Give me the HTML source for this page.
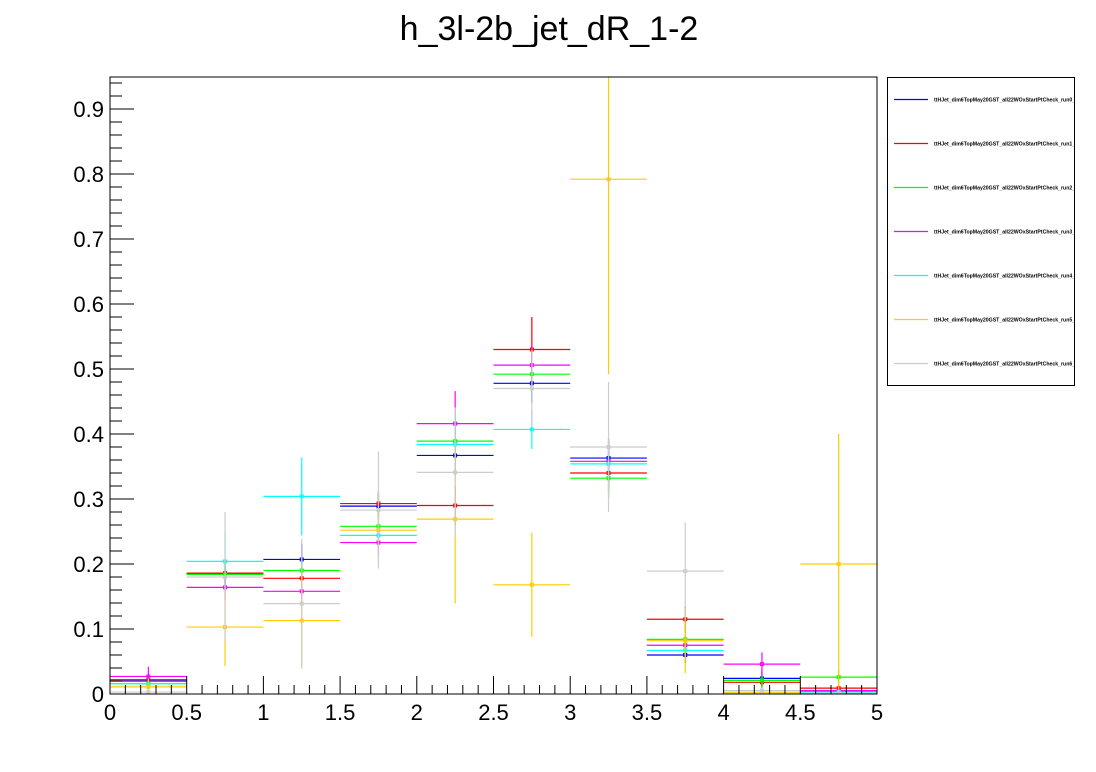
<!DOCTYPE html>
<html><head><meta charset="utf-8"><style>
html,body{margin:0;padding:0;background:#fff;}
svg{display:block;font-family:"Liberation Sans",sans-serif;}
</style></head><body>
<svg id="chart" width="1096" height="772" viewBox="0 0 1096 772">
<rect x="0" y="0" width="1096" height="772" fill="#fff"/>
<text x="549" y="40" font-size="34" text-anchor="middle">h_3l-2b_jet_dR_1-2</text>
<g id="plot"></g>
<g id="axes"></g>
<g id="legend"></g>
</svg>
<script>
const binEdges = [0,0.5,1,1.5,2,2.5,3,3.5,4,4.5,5];
const seriesNames = ["run0","run1","run2","run3","run4","run5","run6"];
const seriesColors = ["#0000ff","#ff0000","#00ff00","#ff00ff","#00ffff","#ffcc00","#cccccc"];
const run0 = [0.020,0.185,0.207,0.289,0.367,0.478,0.363,0.060,0.024,0.005];
const run1 = [0.022,0.186,0.178,0.293,0.290,0.530,0.340,0.115,0.018,0.009];
const run2 = [0.016,0.184,0.190,0.258,0.389,0.492,0.332,0.084,0.021,0.026];
const run3 = [0.027,0.164,0.158,0.233,0.416,0.506,0.358,0.075,0.046,0.005];
const run4 = [0.016,0.204,0.304,0.244,0.384,0.407,0.354,0.067,0.005,0.003];
const run5 = [0.011,0.103,0.113,0.252,0.269,0.168,0.792,0.082,0.002,0.200];
const run6 = [0.003,0.180,0.139,0.283,0.341,0.470,0.380,0.189,0.005,0.001];
const err0 = [0.008,0.02,0.024,0.02,0.03,0.03,0.03,0.012,0.012,0.004];
const err1 = [0.008,0.02,0.02,0.02,0.03,0.05,0.03,0.02,0.008,0.005];
const err2 = [0.008,0.02,0.02,0.02,0.03,0.03,0.03,0.015,0.01,0.01];
const err3 = [0.015,0.02,0.02,0.02,0.05,0.03,0.03,0.015,0.018,0.004];
const err4 = [0.008,0.045,0.06,0.02,0.05,0.03,0.03,0.015,0.004,0.003];
const err5 = [0.01,0.06,0.07,0.05,0.13,0.08,0.3,0.05,0.005,0.2];
const err6 = [0.005,0.1,0.1,0.09,0.1,0.06,0.1,0.075,0.005,0.005];
const xTicks = ["0","0.5","1","1.5","2","2.5","3","3.5","4","4.5","5"];
const yTicks = ["0","0.1","0.2","0.3","0.4","0.5","0.6","0.7","0.8","0.9"];
const legendLabel = "ttHJet_dim6TopMay20GST_all22WOxStartPtCheck_";

const values = [run0,run1,run2,run3,run4,run5,run6];
const errors = [err0,err1,err2,err3,err4,err5,err6];
const X0=110, X1=877, Y0=694, YT=77, XMAX=5, YMAX=(694-77)/650;
const xs = v => X0 + v/XMAX*(X1-X0);
const ys = v => Y0 - v/YMAX*(Y0-YT);
const NS="http://www.w3.org/2000/svg";
function mk(tag, attrs, parent){const e=document.createElementNS(NS,tag);for(const k in attrs)e.setAttribute(k,attrs[k]);parent.appendChild(e);return e;}
const plot=document.getElementById('plot'), axes=document.getElementById('axes'), legend=document.getElementById('legend');

const clip=mk('clipPath',{id:'clipf'},plot);
mk('rect',{x:X0,y:YT,width:X1-X0,height:Y0-YT},clip);
const pg=mk('g',{'clip-path':'url(#clipf)'},plot);

values.forEach((arr,s)=>{
  const g=mk('g',{},pg);
  
  
  arr.forEach((v,i)=>{
    const xa=xs(binEdges[i]), xb=xs(binEdges[i+1]), xc=(xa+xb)/2, y=ys(v);
    const e=errors[s][i];
    const h=mk('line',{x1:xa,x2:xb,y1:y,y2:y,stroke:seriesColors[s],'stroke-width':1.2},g);
    
    
    const vl=mk('line',{x1:xc,x2:xc,y1:ys(v+e),y2:ys(Math.max(0,v-e)),stroke:seriesColors[s],'stroke-width':1.2},g);
    
    
    const m=mk('rect',{x:xc-1.5,y:y-1.5,width:3,height:3,fill:'none',stroke:seriesColors[s],'stroke-width':1},g);
    
    
  });
});

// frame
const fr=mk('rect',{x:X0,y:YT,width:X1-X0,height:Y0-YT,fill:'none',stroke:'#000','stroke-width':1},axes);


// x ticks
for(let k=0;k<=50;k++){
  const v=k*0.1, x=xs(v), major=k%5===0;
  mk('line',{x1:x,x2:x,y1:Y0,y2:Y0-(major?18:9),stroke:'#000','stroke-width':1},axes);
}
xTicks.forEach(t=>{
  const tx=mk('text',{x:xs(parseFloat(t)),y:Y0+26,'font-size':22,'text-anchor':'middle'},axes);
  tx.textContent=t;
  
  
});
// y ticks
for(let k=0;k*0.02<=YMAX;k++){
  const v=k*0.02, y=ys(v), major=k%5===0;
  mk('line',{x1:X0,x2:X0+(major?24:12),y1:y,y2:y,stroke:'#000','stroke-width':1},axes);
}
yTicks.forEach(t=>{
  const tx=mk('text',{x:X0-6,y:ys(parseFloat(t))+8,'font-size':22,'text-anchor':'end'},axes);
  tx.textContent=t;
  
  
});
// legend
const lb=mk('rect',{x:887.5,y:77.5,width:187,height:308,fill:'#fff',stroke:'#000','stroke-width':1},legend);


const lclip=mk('clipPath',{id:'clipl'},legend);
mk('rect',{x:888,y:78,width:186,height:307},lclip);
const lg=mk('g',{'clip-path':'url(#clipl)'},legend);
seriesNames.forEach((n,s)=>{
  const y=99.5+s*44;
  const en=mk('g',{},lg);
  
  
  mk('line',{x1:894,x2:928,y1:y,y2:y,stroke:seriesColors[s],'stroke-width':1.2},en);
  const t=mk('text',{x:934,y:y+2,'font-size':5.2,'font-weight':'bold'},en);
  t.textContent=legendLabel+n+'_UL17';
});
</script>
</body></html>
